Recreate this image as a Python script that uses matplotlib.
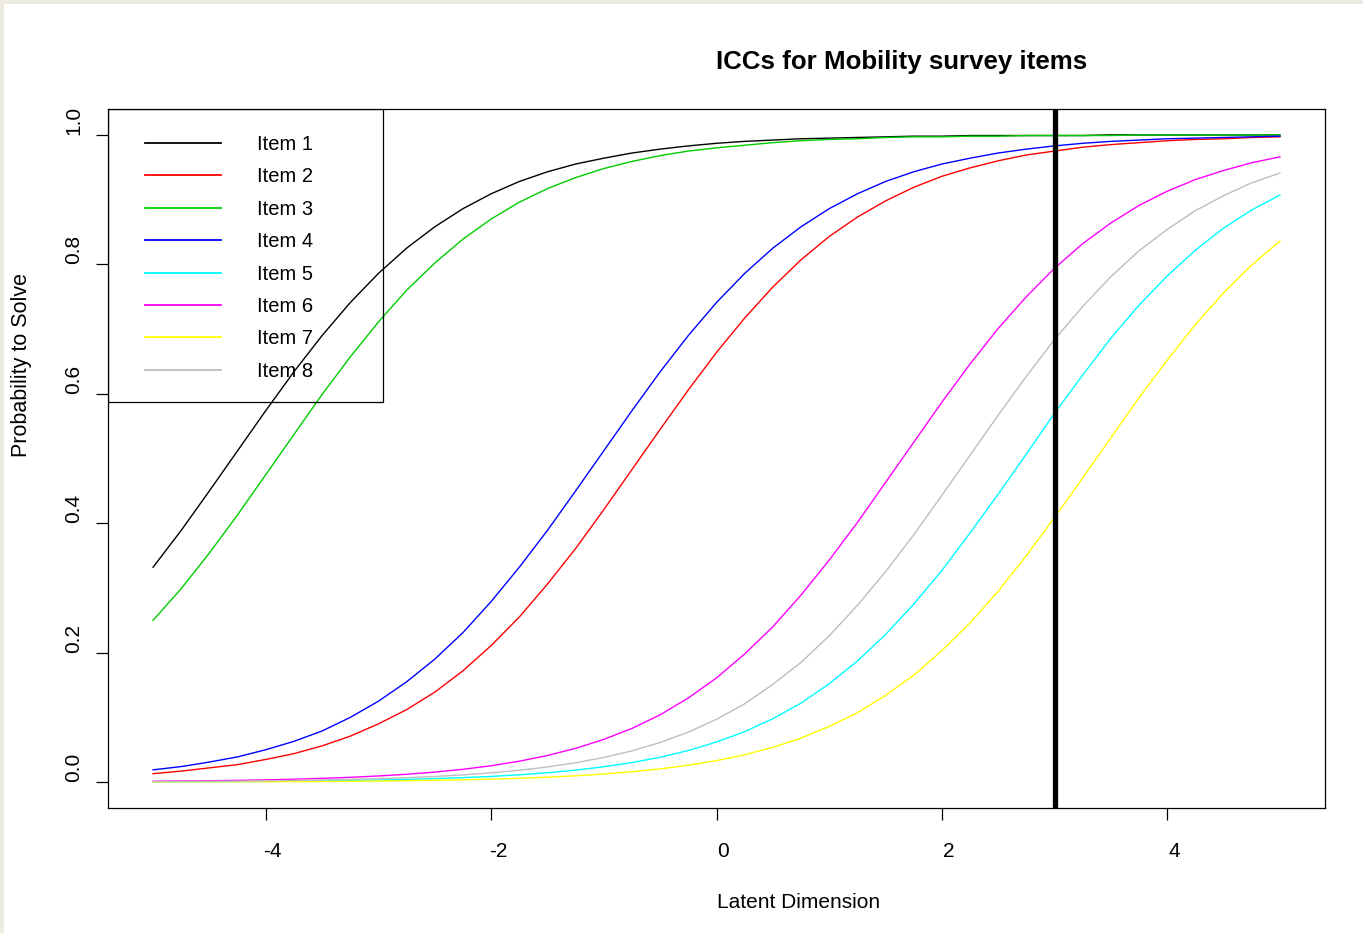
import numpy as np
import matplotlib
matplotlib.use("Agg")
import matplotlib.pyplot as plt
from matplotlib.patches import Rectangle
from matplotlib.transforms import ScaledTranslation

plt.rcParams['font.family'] = ['Liberation Sans', 'DejaVu Sans']

# latent dimension grid (theta) and curve values
theta = np.linspace(-5, 5, 41)

item1 = [0.332, 0.389, 0.450, 0.512, 0.574, 0.634, 0.690, 0.741, 0.786, 0.825,
         0.858, 0.886, 0.909, 0.928, 0.943, 0.955, 0.964, 0.972, 0.978, 0.983,
         0.987, 0.990, 0.992, 0.994, 0.995, 0.996, 0.997, 0.998, 0.998, 0.999,
         0.999, 0.999, 0.999, 0.999, 1.000, 1.000, 1.000, 1.000, 1.000, 1.000, 1.000]
item2 = [0.013, 0.017, 0.022, 0.027, 0.035, 0.044, 0.056, 0.071, 0.090, 0.112,
         0.139, 0.172, 0.211, 0.255, 0.306, 0.361, 0.421, 0.483, 0.545, 0.606,
         0.664, 0.717, 0.765, 0.807, 0.843, 0.873, 0.898, 0.919, 0.936, 0.949,
         0.960, 0.969, 0.975, 0.981, 0.985, 0.988, 0.991, 0.993, 0.994, 0.996, 0.997]
item3 = [0.250, 0.299, 0.354, 0.413, 0.475, 0.537, 0.599, 0.657, 0.711, 0.760,
         0.802, 0.839, 0.870, 0.896, 0.917, 0.934, 0.948, 0.959, 0.968, 0.975,
         0.980, 0.984, 0.988, 0.991, 0.993, 0.994, 0.996, 0.997, 0.997, 0.998,
         0.998, 0.999, 0.999, 0.999, 0.999, 1.000, 1.000, 1.000, 1.000, 1.000, 1.000]
item4 = [0.019, 0.024, 0.031, 0.039, 0.050, 0.063, 0.079, 0.100, 0.125, 0.155,
         0.190, 0.231, 0.279, 0.332, 0.389, 0.450, 0.512, 0.574, 0.634, 0.690,
         0.741, 0.786, 0.825, 0.858, 0.886, 0.909, 0.928, 0.943, 0.955, 0.964,
         0.972, 0.978, 0.983, 0.987, 0.990, 0.992, 0.994, 0.995, 0.996, 0.997, 0.998]
item5 = [0.0004, 0.0006, 0.0007, 0.0009, 0.0012, 0.0015, 0.0020, 0.0026, 0.0033, 0.0042,
         0.0054, 0.0069, 0.0088, 0.0113, 0.0145, 0.0185, 0.0237, 0.0302, 0.0384, 0.0488,
         0.062, 0.078, 0.098, 0.122, 0.152, 0.187, 0.228, 0.275, 0.327, 0.385,
         0.445, 0.507, 0.570, 0.629, 0.686, 0.737, 0.782, 0.822, 0.856, 0.884, 0.907]
item6 = [0.0013, 0.0017, 0.0021, 0.0027, 0.0035, 0.0045, 0.0058, 0.0074, 0.0095, 0.0121,
         0.0155, 0.0198, 0.0253, 0.0323, 0.0411, 0.0522, 0.066, 0.083, 0.104, 0.130,
         0.161, 0.198, 0.240, 0.289, 0.343, 0.401, 0.463, 0.525, 0.587, 0.646,
         0.701, 0.750, 0.794, 0.832, 0.864, 0.891, 0.913, 0.931, 0.945, 0.957, 0.966]
item7 = [0.0002, 0.0003, 0.0004, 0.0005, 0.0006, 0.0008, 0.0010, 0.0013, 0.0017, 0.0022,
         0.0028, 0.0036, 0.0046, 0.0059, 0.0076, 0.0098, 0.0125, 0.0160, 0.0204, 0.0261,
         0.0332, 0.0423, 0.0537, 0.068, 0.086, 0.107, 0.134, 0.165, 0.203, 0.246,
         0.295, 0.350, 0.409, 0.470, 0.532, 0.594, 0.652, 0.707, 0.756, 0.799, 0.836]
item8 = [0.0007, 0.0009, 0.0012, 0.0015, 0.0020, 0.0025, 0.0032, 0.0042, 0.0053, 0.0068,
         0.0087, 0.0112, 0.0143, 0.0183, 0.0234, 0.0299, 0.0380, 0.0483, 0.0612, 0.0773,
         0.097, 0.121, 0.151, 0.185, 0.226, 0.273, 0.325, 0.382, 0.443, 0.505,
         0.567, 0.627, 0.684, 0.735, 0.781, 0.821, 0.854, 0.883, 0.906, 0.926, 0.941]

curves = [item1, item2, item3, item4, item5, item6, item7, item8]
labels = ["Item 1", "Item 2", "Item 3", "Item 4", "Item 5", "Item 6", "Item 7", "Item 8"]
colors = ["#000000", "#FF0000", "#00CD00", "#0000FF", "#00FFFF", "#FF00FF", "#FFFF00", "#BEBEBE"]
cutoff = 3

xticks = [-4, -2, 0, 2, 4]
yticks = [0.0, 0.2, 0.4, 0.6, 0.8, 1.0]

W, H = 1363, 933
fig = plt.figure(figsize=(W / 100, H / 100), dpi=100)
fig.patch.set_facecolor("white")
# beige page edge (top and left)
fig.patches.append(Rectangle((0, 1 - 4 / H), 1, 4 / H, transform=fig.transFigure,
                             facecolor="#EEECE1", edgecolor="none"))
fig.patches.append(Rectangle((0, 0), 4 / W, 1, transform=fig.transFigure,
                             facecolor="#EEECE1", edgecolor="none"))

ax = fig.add_axes([108 / W, (H - 808) / H, (1325 - 108) / W, (808 - 109) / H])

for vals, lab, col in zip(curves, labels, colors):
    ax.plot(theta, vals, color=col, lw=1.0, label=lab)
ax.axvline(cutoff, color="black", lw=3.8)

ax.set_xlim(-5.4, 5.4)
ax.set_ylim(-0.04, 1.04)

for s in ax.spines.values():
    s.set_linewidth(0.9)
ax.tick_params(direction="out", length=8.6, width=0.9, labelsize=15)
ax.tick_params(axis="x", pad=16)
ax.tick_params(axis="y", pad=16)

ax.set_xticks(xticks)
ax.set_xticklabels([str(v) for v in xticks])
for lab in ax.get_xticklabels():
    lab.set_transform(lab.get_transform() + ScaledTranslation(7 / 100, 0, fig.dpi_scale_trans))
ax.set_yticks(yticks)
ax.set_yticklabels([f"{v:.1f}" for v in yticks], rotation=90, va="bottom", ha="center")

# legend frame (transparent), like R's legend box
ax.add_patch(Rectangle((0, 1 - (402 - 109) / 699), (383 - 108) / 1217, (402 - 109) / 699,
                       transform=ax.transAxes, fill=False, edgecolor="black", lw=0.9, zorder=5))
leg = ax.legend(loc="upper left", bbox_to_anchor=((145 - 108) / 1217, 1 - 26 / 699),
                frameon=False, fontsize=14.5, handlelength=3.75, handletextpad=1.8,
                labelspacing=0.665, borderpad=0, borderaxespad=0)
for h in leg.get_lines():
    h.set_linewidth(1.3)

fig.text(902 / W, 1 - 69 / H, "ICCs for Mobility survey items", ha="center",
         va="baseline", fontsize=18.6, fontweight="bold")
fig.text(799 / W, 1 - 908 / H, "Latent Dimension", ha="center", va="baseline", fontsize=15)
fig.text(22 / W, 1 - 365 / H, "Probability to Solve", ha="center", va="center",
         rotation=90, fontsize=15.5)

fig.savefig("out.png", dpi=100)
